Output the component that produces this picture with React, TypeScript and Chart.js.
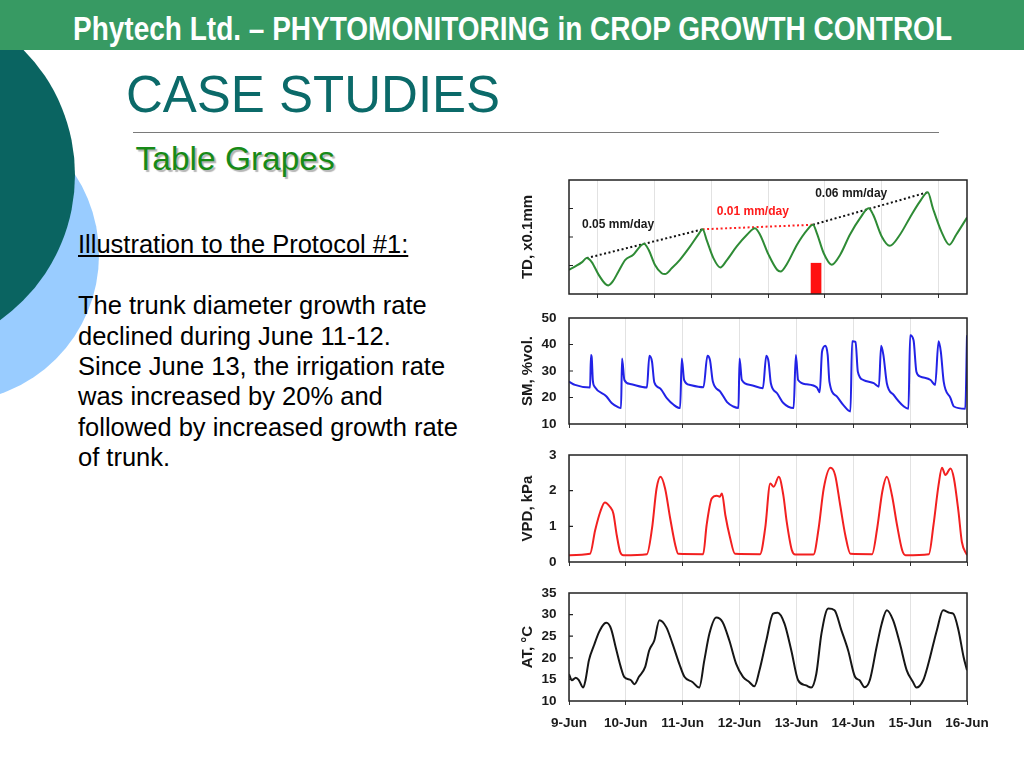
import React, { useEffect, useLayoutEffect, useRef } from 'react';
import { Chart, registerables } from 'chart.js';

Chart.register(...registerables);

const FONT = '"Liberation Sans", Arial, Helvetica, sans-serif';
Chart.defaults.font.family = FONT;

// ---- shared x axis (days since 9-Jun) ----
const dayLabels = ['9-Jun', '10-Jun', '11-Jun', '12-Jun', '13-Jun', '14-Jun', '15-Jun', '16-Jun'];

// ---- TD, x0.1mm (trunk diameter) ----
const tdDays = [0, 0.11, 0.23, 0.31, 0.40, 0.52, 0.64, 0.69, 0.77, 0.87, 0.99, 1.13, 1.25, 1.32, 1.40, 1.51, 1.63, 1.69, 1.81, 1.95, 2.13, 2.28, 2.35, 2.42, 2.54, 2.66, 2.77, 2.95, 3.13, 3.27, 3.36, 3.51, 3.66, 3.72, 3.84, 4.01, 4.19, 4.29, 4.36, 4.48, 4.62, 4.77, 4.94, 5.12, 5.27, 5.35, 5.50, 5.64, 5.82, 5.99, 6.17, 6.31, 6.40, 6.55, 6.69, 6.81, 7.0];
const tdValues = [0.85, 0.97, 1.12, 1.26, 1.12, 0.68, 0.35, 0.30, 0.44, 0.79, 1.20, 1.38, 1.67, 1.76, 1.55, 1.03, 0.73, 0.70, 0.91, 1.20, 1.67, 2.10, 2.27, 1.90, 1.26, 0.93, 1.17, 1.67, 2.08, 2.31, 2.08, 1.38, 0.85, 0.79, 1.08, 1.73, 2.25, 2.43, 2.13, 1.43, 1.03, 1.38, 2.08, 2.66, 3.01, 2.78, 2.02, 1.69, 2.08, 2.66, 3.24, 3.57, 3.01, 2.19, 1.73, 2.08, 2.68];
const trendBeforeDays = [0.31, 2.35];
const trendBeforeValues = [1.26, 2.27];
const trendDeclineDays = [2.35, 4.29];
const trendDeclineValues = [2.27, 2.43];
const trendAfterDays = [4.29, 6.31];
const trendAfterValues = [2.43, 3.57];
const irrigationDays = [4.345];
const irrigationValues = [1.08];
const noteLabels = ['0.05 mm/day', '0.01 mm/day', '0.06 mm/day'];
const noteDays = [0.23, 2.60, 4.33];
const noteValues = [2.42, 2.88, 3.51];

// ---- SM, %vol. (soil moisture) ----
const smDays = [0, 0.106, 0.37, 0.387, 0.40, 0.42, 0.45, 0.66, 0.75, 0.87, 0.915, 0.933, 0.974, 1.074, 1.37, 1.414, 1.46, 1.50, 1.60, 1.72, 1.84, 1.954, 1.984, 2.025, 2.13, 2.365, 2.435, 2.48, 2.53, 2.66, 2.78, 2.89, 2.98, 3.00, 3.04, 3.19, 3.41, 3.47, 3.51, 3.55, 3.66, 3.77, 3.95, 3.99, 4.03, 4.18, 4.36, 4.41, 4.45, 4.51, 4.55, 4.58, 4.71, 4.83, 4.95, 4.98, 5.04, 5.08, 5.18, 5.36, 5.45, 5.49, 5.53, 5.59, 5.71, 5.89, 5.97, 6.00, 6.06, 6.11, 6.18, 6.36, 6.44, 6.50, 6.54, 6.59, 6.71, 6.77, 6.97, 7.0];
const smValues = [26.0, 24.75, 23.75, 36.0, 35.0, 26.25, 24.1, 20.4, 17.9, 16.25, 16.0, 34.75, 26.6, 25.1, 23.75, 35.75, 33.5, 25.75, 23.5, 19.75, 17.25, 16.0, 34.75, 26.6, 24.75, 23.9, 35.75, 34.1, 26.0, 22.25, 18.25, 16.6, 16.0, 34.75, 26.6, 24.75, 23.5, 35.75, 33.5, 25.4, 21.6, 17.9, 16.0, 36.0, 26.6, 25.0, 23.75, 22.0, 37.25, 39.5, 36.0, 26.0, 20.4, 17.0, 14.75, 41.25, 41.0, 29.75, 26.6, 25.4, 24.1, 39.5, 36.0, 25.4, 21.0, 16.6, 15.75, 43.5, 41.6, 29.75, 27.9, 26.6, 24.75, 41.25, 37.25, 26.0, 19.75, 16.6, 15.75, 43.5];

// ---- VPD, kPa ----
const vpdDays = [0, 0.37, 0.46, 0.55, 0.63, 0.72, 0.78, 0.84, 0.90, 0.96, 1.37, 1.46, 1.54, 1.61, 1.69, 1.78, 1.87, 1.92, 2.36, 2.42, 2.51, 2.60, 2.65, 2.69, 2.75, 2.83, 2.92, 3.36, 3.45, 3.54, 3.60, 3.69, 3.77, 3.83, 3.92, 3.98, 4.30, 4.39, 4.48, 4.60, 4.68, 4.77, 4.86, 4.95, 5.33, 5.42, 5.51, 5.59, 5.68, 5.77, 5.86, 5.92, 6.33, 6.41, 6.50, 6.56, 6.62, 6.71, 6.77, 6.85, 6.91, 7.0];
const vpdValues = [0.19, 0.23, 0.89, 1.41, 1.67, 1.55, 1.36, 0.75, 0.28, 0.19, 0.22, 0.94, 2.06, 2.39, 2.06, 1.22, 0.47, 0.23, 0.22, 1.03, 1.78, 1.86, 1.83, 1.92, 1.31, 0.70, 0.23, 0.22, 0.94, 2.20, 2.11, 2.39, 1.87, 1.12, 0.33, 0.21, 0.21, 0.94, 2.06, 2.64, 2.44, 1.59, 0.75, 0.23, 0.22, 0.94, 1.97, 2.39, 1.87, 1.03, 0.33, 0.19, 0.22, 1.03, 2.16, 2.64, 2.44, 2.62, 2.34, 1.41, 0.56, 0.19];

// ---- AT, °C (air temperature) ----
const atDays = [0, 0.05, 0.12, 0.17, 0.25, 0.29, 0.35, 0.44, 0.53, 0.62, 0.66, 0.74, 0.82, 0.91, 0.97, 1.09, 1.15, 1.23, 1.34, 1.41, 1.50, 1.59, 1.71, 1.82, 1.94, 2.03, 2.17, 2.29, 2.38, 2.47, 2.59, 2.70, 2.82, 2.94, 3.06, 3.17, 3.26, 3.35, 3.47, 3.59, 3.67, 3.79, 3.91, 4.03, 4.17, 4.26, 4.35, 4.44, 4.56, 4.67, 4.79, 4.91, 5.03, 5.11, 5.20, 5.29, 5.41, 5.50, 5.59, 5.70, 5.82, 5.94, 6.05, 6.11, 6.23, 6.32, 6.47, 6.58, 6.70, 6.76, 6.85, 6.94, 7.0];
const atValues = [16.2, 14.8, 15.4, 14.9, 13.1, 14.8, 19.4, 22.9, 26.0, 27.9, 28.1, 26.7, 22.5, 17.9, 15.6, 14.8, 13.9, 15.6, 17.9, 21.7, 24.0, 28.7, 27.1, 23.3, 18.6, 15.6, 14.4, 13.1, 19.4, 25.6, 29.3, 28.3, 24.0, 18.6, 15.6, 14.4, 13.4, 17.1, 24.0, 30.2, 30.4, 27.9, 21.7, 14.8, 13.6, 13.1, 16.3, 25.6, 31.4, 31.0, 26.4, 21.7, 15.6, 14.8, 13.2, 14.8, 22.5, 27.9, 31.0, 28.7, 23.3, 17.1, 14.4, 13.1, 14.8, 18.6, 26.4, 31.0, 30.4, 30.2, 26.4, 20.2, 17.1];

const pts = (xs: number[], ys: number[]) => xs.map((x, i) => ({ x, y: ys[i] }));

const INK = '#1a1a1a';

// plot frame plus the short inward y-axis tick marks
const framePlugin = {
  id: 'frame',
  afterDatasetsDraw(chart: any) {
    const { ctx, chartArea: a } = chart;
    const ys = chart.scales.y;
    ctx.save();
    ctx.strokeStyle = '#222';
    ctx.lineWidth = 1.5;
    ctx.strokeRect(a.left, a.top, a.right - a.left, a.bottom - a.top);
    ctx.lineWidth = 1.2;
    ctx.beginPath();
    ys.ticks.forEach((t: any) => {
      if (t.value <= ys.min || t.value >= ys.max) return;
      const py = ys.getPixelForValue(t.value);
      ctx.moveTo(a.left, py);
      ctx.lineTo(a.left + 4, py);
    });
    ctx.stroke();
    ctx.restore();
  },
};

const notesPlugin = {
  id: 'notes',
  afterDatasetsDraw(chart: any) {
    const { ctx } = chart;
    const xs = chart.scales.x;
    const ys = chart.scales.y;
    ctx.save();
    ctx.font = `bold 12px ${FONT}`;
    ctx.textAlign = 'left';
    ctx.textBaseline = 'middle';
    noteLabels.forEach((t, i) => {
      ctx.fillStyle = i === 1 ? '#ff1a1a' : INK;
      ctx.fillText(t, xs.getPixelForValue(noteDays[i]), ys.getPixelForValue(noteValues[i]));
    });
    ctx.restore();
  },
};

function line(data: any[], color: string, width = 2, dash?: number[]) {
  return {
    type: 'line',
    data,
    borderColor: color,
    backgroundColor: color,
    borderWidth: width,
    borderDash: dash || [],
    pointRadius: 0,
    fill: false,
    cubicInterpolationMode: 'monotone',
  };
}

function buildConfig(opts: {
  datasets: any[];
  yMin: number;
  yMax: number;
  yStep: number;
  showY: boolean;
  yTitle: string;
  showX: boolean;
  extraPlugins?: any[];
}) {
  return {
    type: 'line',
    data: { datasets: opts.datasets },
    options: {
      responsive: false,
      animation: false,
      events: [],
      layout: { padding: { left: 18.5, right: 33, top: 10, bottom: 4 } },
      plugins: { legend: { display: false }, tooltip: { enabled: false } },
      scales: {
        x: {
          type: 'linear',
          min: 0,
          max: 7,
          offset: false,
          border: { display: false },
          grid: { color: '#e2e2e2', lineWidth: 1, tickColor: '#333', tickLength: 4, drawTicks: true },
          ticks: {
            display: opts.showX,
            stepSize: 1,
            autoSkip: false,
            maxRotation: 0,
            padding: 10,
            color: INK,
            font: { size: 13.5, weight: 'bold' },
            callback: (v: any) => dayLabels[Math.round(v)] ?? '',
          },
          afterFit: (s: any) => {
            s.height = opts.showX ? 30 : 4;
          },
        },
        y: {
          type: 'linear',
          min: opts.yMin,
          max: opts.yMax,
          border: { display: false },
          grid: { display: false, drawTicks: false },
          ticks: {
            display: opts.showY,
            stepSize: opts.yStep,
            padding: 12.5,
            color: INK,
            font: { size: 13.5, weight: 'bold' },
          },
          title: {
            display: true,
            text: opts.yTitle,
            color: INK,
            padding: 0,
            font: { size: 15, weight: 'bold' },
          },
          afterFit: (s: any) => {
            s.width = 50.5;
            s.paddingTop = 0;
            s.paddingBottom = 0;
          },
        },
      },
    },
    plugins: [framePlugin, ...(opts.extraPlugins || [])],
  };
}

function ChartPanel({ top, height, build }: { top: number; height: number; build: () => any }) {
  const ref = useRef<HTMLCanvasElement>(null);
  useEffect(() => {
    const chart = new Chart(ref.current as HTMLCanvasElement, build());
    return () => chart.destroy();
  }, []);
  return (
    <canvas
      ref={ref}
      width={500}
      height={height}
      style={{ position: 'absolute', left: 500, top, width: 500, height }}
    />
  );
}

const buildTD = () =>
  buildConfig({
    datasets: [
      {
        type: 'bar',
        data: pts(irrigationDays, irrigationValues),
        backgroundColor: '#ff1010',
        borderWidth: 0,
        barThickness: 10,
      },
      line(pts(tdDays, tdValues), '#2e8b35', 2),
      line(pts(trendBeforeDays, trendBeforeValues), '#111', 2, [2, 2.5]),
      line(pts(trendDeclineDays, trendDeclineValues), '#ff2020', 2, [2, 2.5]),
      line(pts(trendAfterDays, trendAfterValues), '#111', 2, [2, 2.5]),
    ],
    yMin: 0,
    yMax: 4,
    yStep: 1,
    showY: false,
    yTitle: 'TD, x0.1mm',
    showX: false,
    extraPlugins: [notesPlugin],
  });

const buildSM = () =>
  buildConfig({
    datasets: [line(pts(smDays, smValues), '#2222e6', 2)],
    yMin: 10,
    yMax: 50,
    yStep: 10,
    showY: true,
    yTitle: 'SM, %vol.',
    showX: false,
  });

const buildVPD = () =>
  buildConfig({
    datasets: [line(pts(vpdDays, vpdValues), '#f22020', 2)],
    yMin: 0,
    yMax: 3,
    yStep: 1,
    showY: true,
    yTitle: 'VPD, kPa',
    showX: false,
  });

const buildAT = () =>
  buildConfig({
    datasets: [line(pts(atDays, atValues), '#161616', 2)],
    yMin: 10,
    yMax: 35,
    yStep: 5,
    showY: true,
    yTitle: 'AT, °C',
    showX: true,
  });

function HeaderTitle() {
  const ref = useRef<HTMLSpanElement>(null);
  useLayoutEffect(() => {
    const el = ref.current;
    if (!el) return;
    const w = el.getBoundingClientRect().width;
    if (w > 0) el.style.transform = `scaleX(${879 / w})`;
  }, []);
  return (
    <span
      ref={ref}
      style={{
        position: 'absolute',
        left: 73,
        top: 10.5,
        fontFamily: '"Liberation Sans Narrow", "Arial Narrow", "Liberation Sans", Arial, sans-serif',
        fontWeight: 'bold',
        fontSize: 34,
        lineHeight: '34px',
        color: '#fff',
        whiteSpace: 'nowrap',
        transformOrigin: '0 0',
      }}
    >
      Phytech Ltd. – PHYTOMONITORING in CROP GROWTH CONTROL
    </span>
  );
}

export default function App() {
  return (
    <div
      style={{
        position: 'absolute',
        left: 0,
        top: 0,
        width: 1024,
        height: 768,
        overflow: 'hidden',
        background: '#fff',
        fontFamily: FONT,
      }}
    >
      {/* decorative circles */}
      <div
        style={{
          position: 'absolute',
          left: -195,
          top: 108,
          width: 294,
          height: 294,
          borderRadius: '50%',
          background: '#99ccff',
        }}
      />
      <div
        style={{
          position: 'absolute',
          left: -281,
          top: -3,
          width: 356,
          height: 356,
          borderRadius: '50%',
          background: '#0a6461',
        }}
      />
      {/* header bar */}
      <div style={{ position: 'absolute', left: 0, top: 0, width: 1024, height: 50, background: '#379a63' }}>
        <HeaderTitle />
      </div>

      <div
        style={{
          position: 'absolute',
          left: 126,
          top: 69,
          fontSize: 51,
          lineHeight: '51px',
          color: '#0b6a69',
          whiteSpace: 'nowrap',
        }}
      >
        CASE STUDIES
      </div>
      <div style={{ position: 'absolute', left: 133, top: 132, width: 806, height: 0, borderTop: '1.5px solid #7a7a7a' }} />
      <div
        style={{
          position: 'absolute',
          left: 135.5,
          top: 141.6,
          fontSize: 33.5,
          lineHeight: '33.5px',
          color: '#178a17',
          textShadow: '2px 2px 1px #b5b5b5',
          whiteSpace: 'nowrap',
        }}
      >
        Table Grapes
      </div>

      <div
        style={{
          position: 'absolute',
          left: 78,
          top: 229.3,
          fontSize: 25.5,
          lineHeight: '30.4px',
          color: '#000',
          whiteSpace: 'nowrap',
        }}
      >
        <div style={{ textDecoration: 'underline' }}>Illustration to the Protocol #1:</div>
        <div>&nbsp;</div>
        <div>The trunk diameter growth rate</div>
        <div>declined during June 11-12.</div>
        <div>Since June 13, the irrigation rate</div>
        <div>was increased by 20% and</div>
        <div>followed by increased growth rate</div>
        <div>of trunk.</div>
      </div>

      <ChartPanel top={170} height={132} build={buildTD} />
      <ChartPanel top={308} height={124} build={buildSM} />
      <ChartPanel top={445} height={125} build={buildVPD} />
      <ChartPanel top={583} height={152} build={buildAT} />
    </div>
  );
}
